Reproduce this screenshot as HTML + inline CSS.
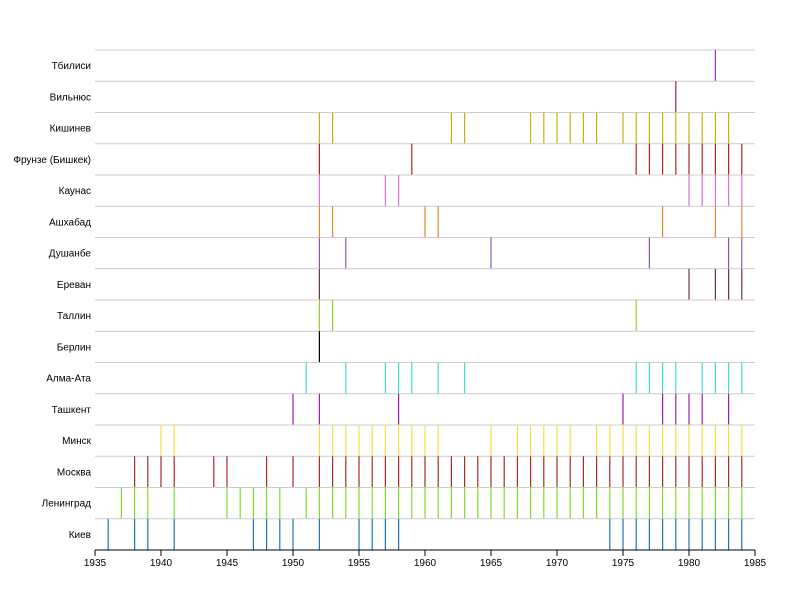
<!DOCTYPE html>
<html><head><meta charset="utf-8"><style>
body{margin:0;background:#fff;}
svg text{font-family:"Liberation Sans","DejaVu Sans",sans-serif;font-size:10px;fill:#000;}
</style></head><body>
<svg id="chart" width="805" height="600" xmlns="http://www.w3.org/2000/svg"></svg>
<script>
const cities = ["Тбилиси","Вильнюс","Кишинев","Фрунзе (Бишкек)","Каунас","Ашхабад","Душанбе","Ереван","Таллин","Берлин","Алма-Ата","Ташкент","Минск","Москва","Ленинград","Киев"];
const colors = ["#9932cc","#8b2a3a","#c8b400","#b22222","#da70d6","#e08b2a","#8a5ab0","#6b3a3a","#9acd32","#000000","#40e0d0","#9d1fb0","#f2e040","#a52a2a","#7fdc2c","#1f77b4"];
const yearsTbilisi = [1982];
const yearsVilnius = [1979];
const yearsKishinev = [1952,1953,1962,1963,1968,1969,1970,1971,1972,1973,1975,1976,1977,1978,1979,1980,1981,1982,1983];
const yearsFrunze = [1952,1959,1976,1977,1978,1979,1980,1981,1982,1983,1984];
const yearsKaunas = [1952,1957,1958,1980,1981,1982,1983,1984];
const yearsAshgabat = [1952,1953,1960,1961,1978,1982,1984];
const yearsDushanbe = [1952,1954,1965,1977,1983,1984];
const yearsYerevan = [1952,1980,1982,1983,1984];
const yearsTallinn = [1952,1953,1976];
const yearsBerlin = [1952];
const yearsAlmaAta = [1951,1954,1957,1958,1959,1961,1963,1976,1977,1978,1979,1981,1982,1983,1984];
const yearsTashkent = [1950,1952,1958,1975,1978,1979,1980,1981,1983];
const yearsMinsk = [1940,1941,1952,1953,1954,1955,1956,1957,1958,1959,1960,1961,1965,1967,1968,1969,1970,1971,1973,1974,1975,1976,1977,1978,1979,1980,1981,1982,1983,1984];
const yearsMoscow = [1938,1939,1940,1941,1944,1945,1948,1950,1952,1953,1954,1955,1956,1957,1958,1959,1960,1961,1962,1963,1964,1965,1966,1967,1968,1969,1970,1971,1972,1973,1974,1975,1976,1977,1978,1979,1980,1981,1982,1983,1984];
const yearsLeningrad = [1937,1938,1939,1941,1945,1946,1947,1948,1949,1951,1952,1953,1954,1955,1956,1957,1958,1959,1960,1961,1962,1963,1964,1965,1966,1967,1968,1969,1970,1971,1972,1973,1974,1975,1976,1977,1978,1979,1980,1981,1982,1983,1984];
const yearsKiev = [1936,1938,1939,1941,1947,1948,1949,1950,1952,1955,1956,1957,1958,1974,1975,1976,1977,1978,1979,1980,1981,1982,1983,1984];
const seriesYears = [yearsTbilisi,yearsVilnius,yearsKishinev,yearsFrunze,yearsKaunas,yearsAshgabat,yearsDushanbe,yearsYerevan,yearsTallinn,yearsBerlin,yearsAlmaAta,yearsTashkent,yearsMinsk,yearsMoscow,yearsLeningrad,yearsKiev];
const xTicks = [1935,1940,1945,1950,1955,1960,1965,1970,1975,1980,1985];

const NS="http://www.w3.org/2000/svg";
const svg=document.getElementById('chart');
const L=95,R=755,T=50,B=550,x0=1935,x1=1985;
const xs=v=>L+(v-x0)/(x1-x0)*(R-L);
const rowH=(B-T)/cities.length;
const ys=i=>T+i*rowH;
function mk(t,a){const e=document.createElementNS(NS,t);for(const k in a)e.setAttribute(k,a[k]);svg.appendChild(e);return e;}

cities.forEach((c,i)=>{
  const g=mk('line',{x1:L,x2:R,y1:ys(i),y2:ys(i),stroke:'#cccccc','stroke-width':1});
  
  
  const t=mk('text',{x:L-4,y:ys(i)+rowH/2+3.5,'text-anchor':'end'});
  t.textContent=c;
  
  
  seriesYears[i].forEach(yr=>{
    const m=mk('line',{x1:xs(yr),x2:xs(yr),y1:ys(i),y2:ys(i)+rowH,stroke:colors[i],'stroke-width':1.2});
    
    
  });
});
const ax=mk('line',{x1:L,x2:R,y1:B,y2:B,stroke:'#000','stroke-width':1});


xTicks.forEach(v=>{
  const tk=mk('line',{x1:xs(v),x2:xs(v),y1:B,y2:B+6,stroke:'#000','stroke-width':1});
  
  
  const tl=mk('text',{x:xs(v),y:B+16,'text-anchor':'middle'});
  tl.textContent=v;
  
  
});
</script>
</body></html>
